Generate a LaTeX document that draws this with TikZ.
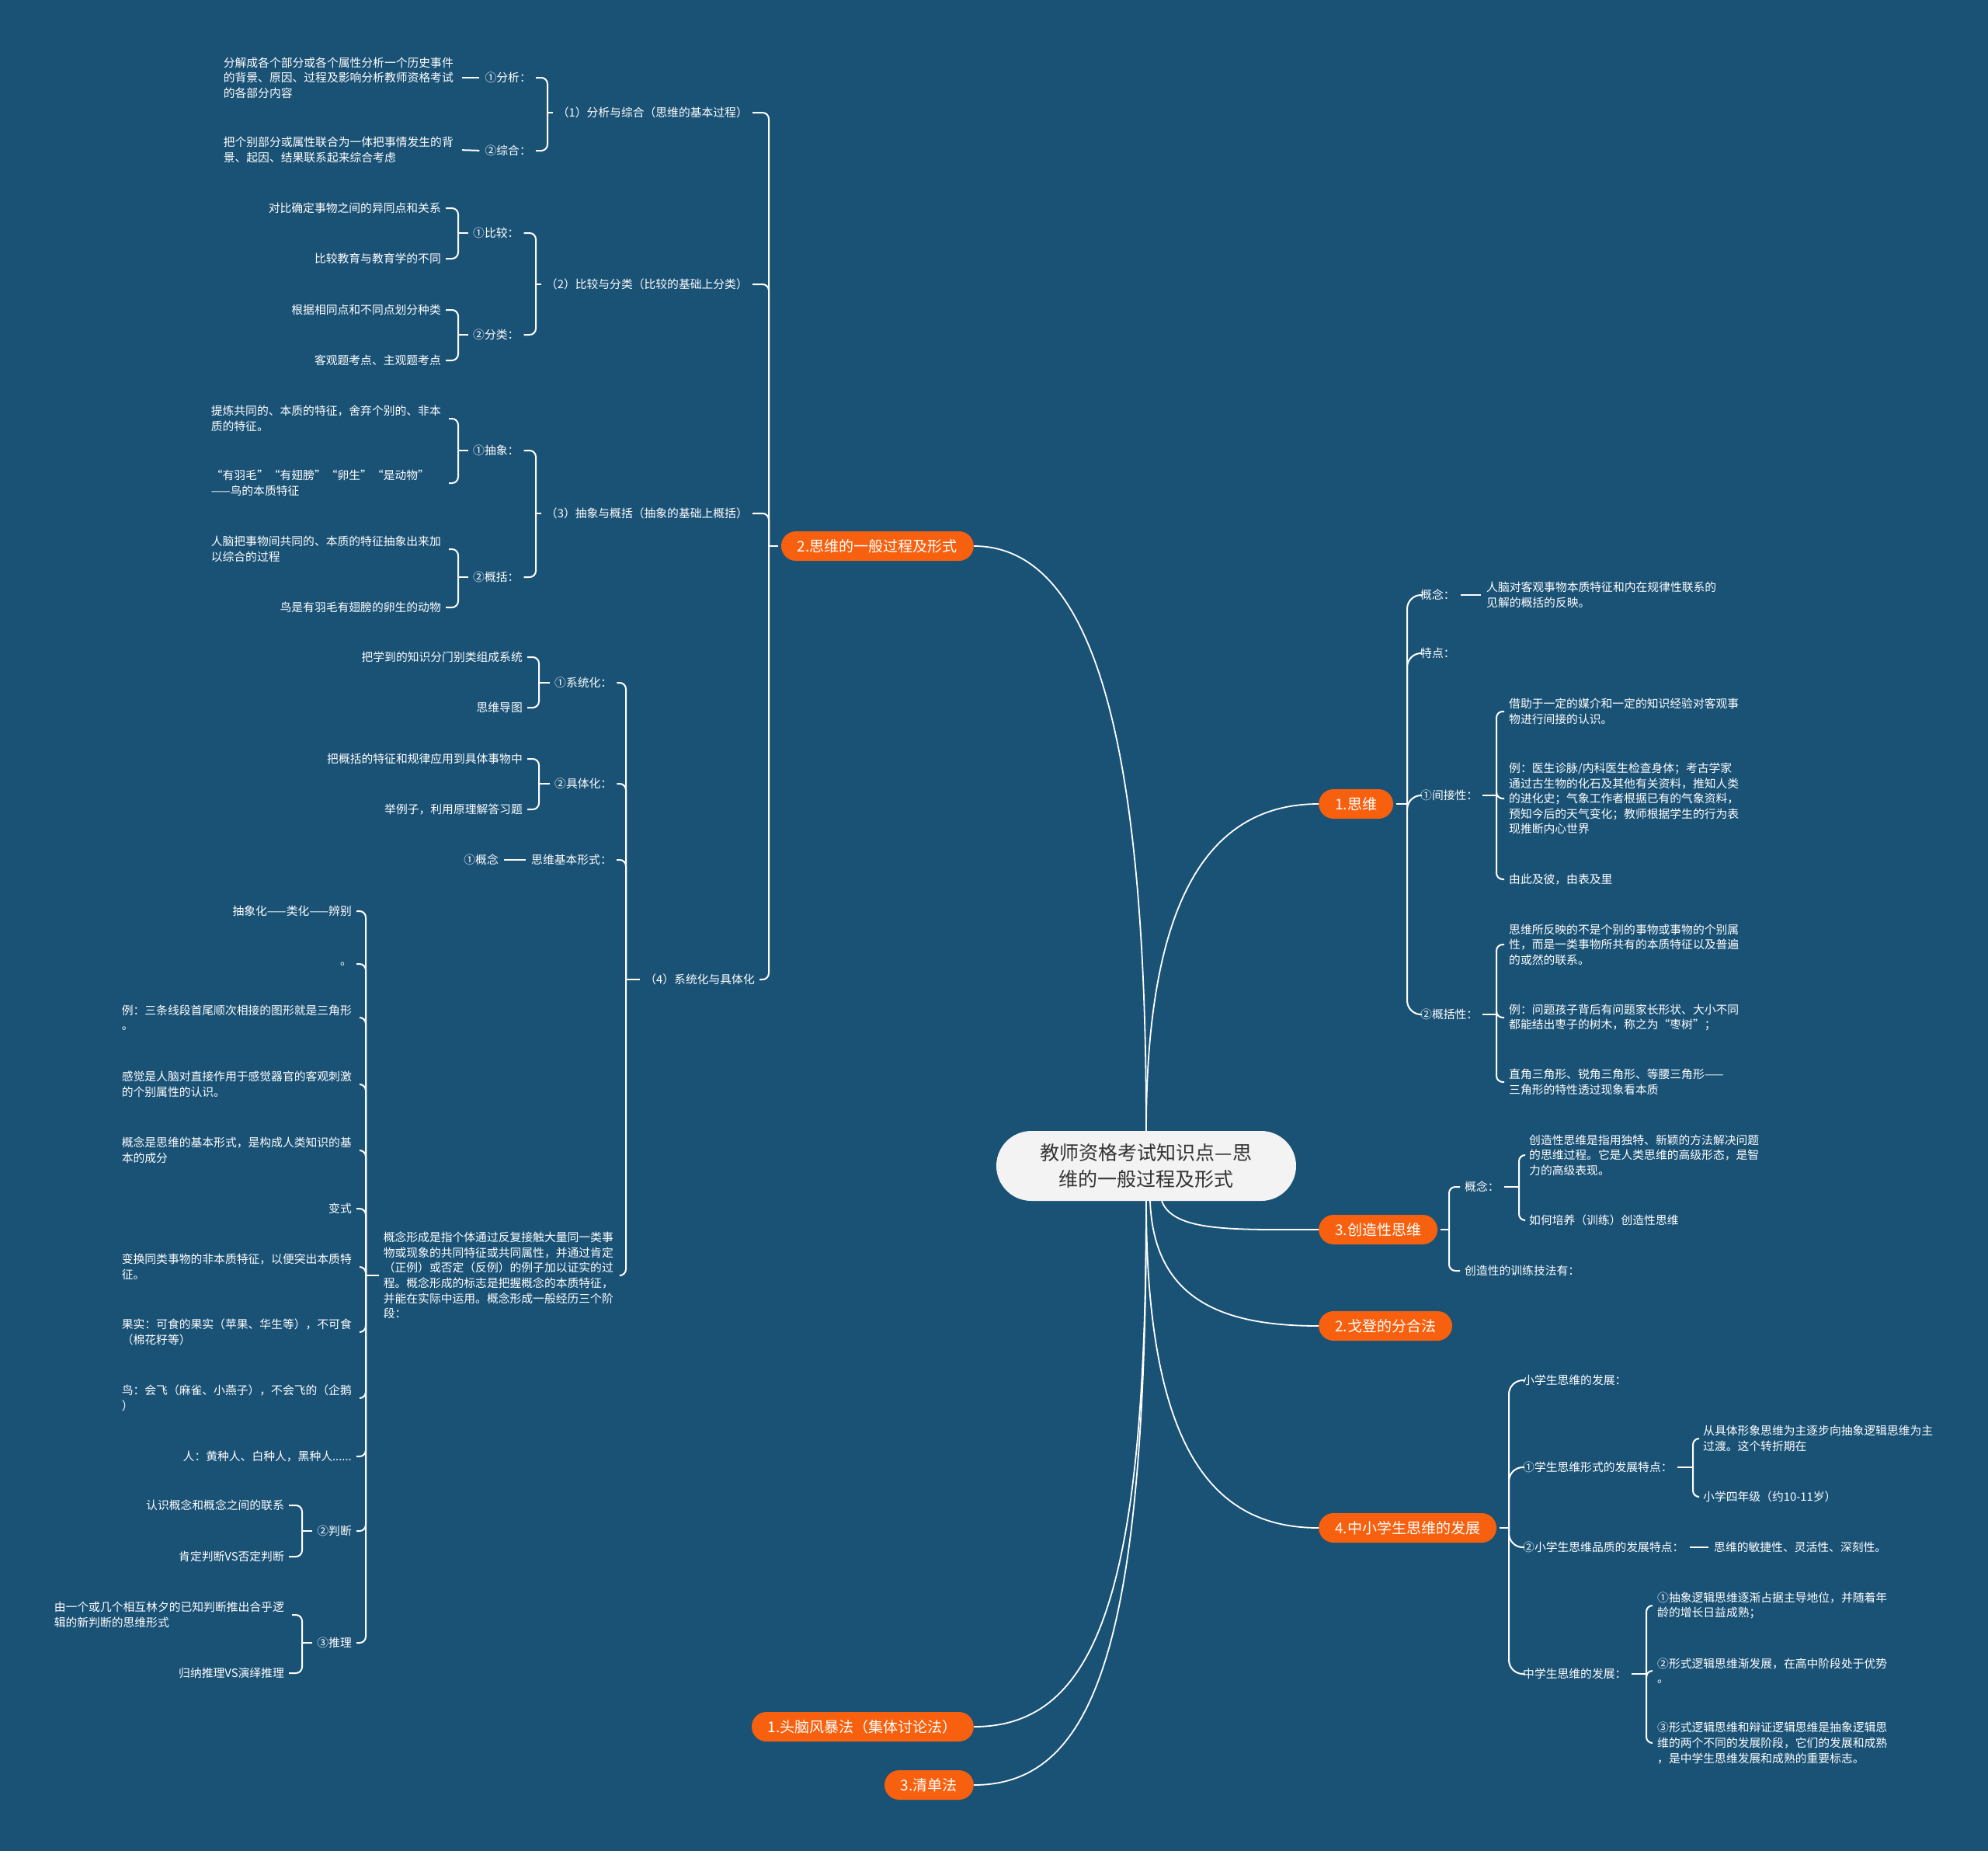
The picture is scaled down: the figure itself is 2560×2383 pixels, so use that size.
\documentclass[tikz,border=0pt]{standalone}
\usepackage{fontspec}
\setmainfont{Noto Sans CJK SC}
\usetikzlibrary{calc}
\definecolor{bgc}{RGB}{26,82,118}
\definecolor{orng}{RGB}{247,96,14}
\definecolor{rootfill}{RGB}{243,243,243}
\definecolor{roottext}{RGB}{51,51,51}
\newcommand\fsS{\fontsize{14.8}{19.6}\selectfont}
\newcommand\fsM{\fontsize{19}{23}\selectfont}
\newcommand\fsL{\fontsize{25}{34}\selectfont}
\newcommand\brkLeft[4][brk]{%
  \draw[#1,shorten <=4pt] (#2.west) -- (#2.west -| #3);
  \foreach \ch in {#4}{\draw[#1,shorten >=4pt] (#2.west -| #3) |- (\ch.east);}%
}
\newcommand\brkRight[4][brk]{%
  \draw[#1,shorten <=4pt] (#2.east) -- (#2.east -| #3);
  \foreach \ch in {#4}{\draw[#1,shorten >=4pt] (#2.east -| #3) |- (\ch.west);}%
}
\begin{document}
\begin{tikzpicture}[x=1pt,y=-1pt,
  txt/.style={text=white,font=\fsS,inner sep=2pt},
  para/.style={txt,align=left,text width=300pt},
  pill/.style={fill=orng,text=white,font=\fsM,rounded corners=19pt,minimum height=38pt,inner xsep=21pt,inner ysep=0pt},
  rootnode/.style={fill=rootfill,text=roottext,font=\fsL,align=center,rounded corners=45pt,minimum width=386pt,minimum height=90pt,inner sep=0pt},
  conn/.style={draw=white,line width=1.8pt},
  brk/.style={draw=white,line width=2pt,rounded corners=8pt},
  brkR/.style={draw=white,line width=2pt,rounded corners=18pt},
  link/.style={draw=white,line width=2pt,shorten <=5pt,shorten >=5pt}]
\fill[bgc] (0,0) rectangle (2560,2383);

% bracket x positions
\coordinate (xM2) at (990,0);
\coordinate (xA1) at (705,0);
\coordinate (xA2) at (690,0);
\coordinate (xA2s) at (590,0);
\coordinate (xA4) at (806,0);
\coordinate (xA4s) at (694,0);
\coordinate (xB) at (471,0);
\coordinate (xB11) at (389,0);
\coordinate (xM1) at (1812,0);
\coordinate (xR3) at (1927,0);
\coordinate (xM3) at (1866,0);
\coordinate (xC1) at (1956,0);
\coordinate (xM4) at (1943,0);
\coordinate (xD2) at (2180,0);
\coordinate (xD4) at (2120,0);

% root and main topics
\node[rootnode] (root) at (1476,1501) {教师资格考试知识点—思\\维的一般过程及形式};
\node[pill,anchor=east] (m2) at (1254,703) {2.思维的一般过程及形式};
\node[pill,anchor=west] (m1) at (1698,1035) {1.思维};
\node[pill,anchor=west] (m3c) at (1698,1583) {3.创造性思维};
\node[pill,anchor=west] (m2g) at (1698,1707) {2.戈登的分合法};
\node[pill,anchor=west] (m4) at (1698,1967) {4.中小学生思维的发展};
\node[pill,anchor=east] (m1b) at (1254,2223) {1.头脑风暴法（集体讨论法）};
\node[pill,anchor=east] (m3q) at (1254,2298) {3.清单法};

% ---------- left: group 1
\node[txt,anchor=east] (a1) at (965,145) {（1）分析与综合（思维的基本过程）};
\node[txt,anchor=east] (a1s1) at (686,100) {①分析：};
\node[txt,anchor=east] (a1s2) at (686,194) {②综合：};
\node[para,anchor=east] (a1t1) at (590,100) {分解成各个部分或各个属性分析一个历史事件\\的背景、原因、过程及影响分析教师资格考试\\的各部分内容};
\node[para,anchor=east] (a1t2) at (590,193) {把个别部分或属性联合为一体把事情发生的背\\景、起因、结果联系起来综合考虑};

% group 2
\node[txt,anchor=east] (a2) at (965,366) {（2）比较与分类（比较的基础上分类）};
\node[txt,anchor=west] (a2s1) at (607,300) {①比较：};
\node[txt,anchor=west] (a2s2) at (607,431) {②分类：};
\node[txt,anchor=east] (a2l1) at (570,268) {对比确定事物之间的异同点和关系};
\node[txt,anchor=east] (a2l2) at (570,333) {比较教育与教育学的不同};
\node[txt,anchor=east] (a2l3) at (570,399) {根据相同点和不同点划分种类};
\node[txt,anchor=east] (a2l4) at (570,464) {客观题考点、主观题考点};

% group 3
\node[txt,anchor=east] (a3) at (965,661) {（3）抽象与概括（抽象的基础上概括）};
\node[txt,anchor=west] (a3s1) at (607,580) {①抽象：};
\node[txt,anchor=west] (a3s2) at (607,743) {②概括：};
\node[para,anchor=east] (a3l1) at (574,539) {提炼共同的、本质的特征，舍弃个别的、非本\\质的特征。};
\node[para,anchor=east] (a3l2) at (574,622) {“有羽毛”“有翅膀”“卵生”“是动物”\\——鸟的本质特征};
\node[para,anchor=east] (a3l3) at (574,707) {人脑把事物间共同的、本质的特征抽象出来加\\以综合的过程};
\node[txt,anchor=east] (a3l4) at (570,782) {鸟是有羽毛有翅膀的卵生的动物};

% group 4
\node[txt,anchor=east] (a4) at (974,1261) {（4）系统化与具体化};
\node[txt,anchor=west] (a4s1) at (712,879) {①系统化：};
\node[txt,anchor=west] (a4s2) at (712,1009) {②具体化：};
\node[txt,anchor=west] (a4s3) at (682,1107) {思维基本形式：};
\node[para,anchor=east] (a4s4) at (796,1642) {概念形成是指个体通过反复接触大量同一类事\\物或现象的共同特征或共同属性，并通过肯定\\（正例）或否定（反例）的例子加以证实的过\\程。概念形成的标志是把握概念的本质特征，\\并能在实际中运用。概念形成一般经历三个阶\\段：};
\node[txt,anchor=east] (a4l1) at (675,846) {把学到的知识分门别类组成系统};
\node[txt,anchor=east] (a4l2) at (675,911) {思维导图};
\node[txt,anchor=east] (a4l3) at (675,977) {把概括的特征和规律应用到具体事物中};
\node[txt,anchor=east] (a4l4) at (675,1042) {举例子，利用原理解答习题};
\node[txt,anchor=east] (a4l5) at (644,1107) {①概念};

\node[txt,anchor=east] (b1) at (455,1173) {抽象化——类化——辨别};
\node[txt,anchor=east] (b2) at (455,1241) {。};
\node[para,anchor=east] (b3) at (459,1310) {例：三条线段首尾顺次相接的图形就是三角形\\。};
\node[para,anchor=east] (b4) at (459,1396) {感觉是人脑对直接作用于感觉器官的客观刺激\\的个别属性的认识。};
\node[para,anchor=east] (b5) at (459,1481) {概念是思维的基本形式，是构成人类知识的基\\本的成分};
\node[txt,anchor=east] (b6) at (455,1556) {变式};
\node[para,anchor=east] (b7) at (459,1631) {变换同类事物的非本质特征，以便突出本质特\\征。};
\node[para,anchor=east] (b8) at (459,1715) {果实：可食的果实（苹果、华生等），不可食\\（棉花籽等）};
\node[para,anchor=east] (b9) at (459,1800) {鸟：会飞（麻雀、小燕子），不会飞的（企鹅\\）};
\node[txt,anchor=east] (b10) at (455,1875) {人：黄种人、白种人，黑种人......};
\node[txt,anchor=east] (b11) at (455,1971) {②判断};
\node[txt,anchor=east] (b12) at (455,2115) {③推理};
\node[txt,anchor=east] (b11l1) at (368,1938) {认识概念和概念之间的联系};
\node[txt,anchor=east] (b11l2) at (368,2004) {肯定判断VS否定判断};
\node[para,anchor=east] (b12l1) at (372,2079) {由一个或几个相互林夕的已知判断推出合乎逻\\辑的新判断的思维形式};
\node[txt,anchor=east] (b12l2) at (368,2154) {归纳推理VS演绎推理};

% ---------- right: 1.思维
\node[txt,anchor=west] (r1) at (1827,766) {概念：};
\node[para,anchor=west] (r1t) at (1912,766) {人脑对客观事物本质特征和内在规律性联系的\\见解的概括的反映。};
\node[txt,anchor=west] (r2) at (1827,841) {特点：};
\node[txt,anchor=west] (r3) at (1827,1024) {①间接性：};
\node[para,anchor=west] (r3l1) at (1941,916) {借助于一定的媒介和一定的知识经验对客观事\\物进行间接的认识。};
\node[para,anchor=west] (r3l2) at (1941,1028) {例：医生诊脉/内科医生检查身体；考古学家\\通过古生物的化石及其他有关资料，推知人类\\的进化史；气象工作者根据已有的气象资料，\\预知今后的天气变化；教师根据学生的行为表\\现推断内心世界};
\node[txt,anchor=west] (r3l3) at (1941,1132) {由此及彼，由表及里};
\node[txt,anchor=west] (r4) at (1827,1306) {②概括性：};
\node[para,anchor=west] (r4l1) at (1941,1216) {思维所反映的不是个别的事物或事物的个别属\\性，而是一类事物所共有的本质特征以及普遍\\的或然的联系。};
\node[para,anchor=west] (r4l2) at (1941,1310) {例：问题孩子背后有问题家长形状、大小不同\\都能结出枣子的树木，称之为“枣树”；};
\node[para,anchor=west] (r4l3) at (1941,1393) {直角三角形、锐角三角形、等腰三角形——\\三角形的特性透过现象看本质};

% 3.创造性思维
\node[txt,anchor=west] (c1) at (1884,1528) {概念：};
\node[para,anchor=west] (c1l1) at (1967,1487) {创造性思维是指用独特、新颖的方法解决问题\\的思维过程。它是人类思维的高级形态，是智\\力的高级表现。};
\node[txt,anchor=west] (c1l2) at (1967,1571) {如何培养（训练）创造性思维};
\node[txt,anchor=west] (c2) at (1884,1636) {创造性的训练技法有：};

% 4.中小学生思维的发展
\node[txt,anchor=west] (d1) at (1959,1777) {小学生思维的发展：};
\node[txt,anchor=west] (d2) at (1959,1889) {①学生思维形式的发展特点：};
\node[para,anchor=west] (d2l1) at (2191,1852) {从具体形象思维为主逐步向抽象逻辑思维为主\\过渡。这个转折期在};
\node[txt,anchor=west] (d2l2) at (2191,1927) {小学四年级（约10-11岁）};
\node[txt,anchor=west] (d3) at (1959,1992) {②小学生思维品质的发展特点：};
\node[txt,anchor=west] (d3l) at (2205,1992) {思维的敏捷性、灵活性、深刻性。};
\node[txt,anchor=west] (d4) at (1959,2155) {中学生思维的发展：};
\node[para,anchor=west] (d4l1) at (2132,2067) {①抽象逻辑思维逐渐占据主导地位，并随着年\\龄的增长日益成熟；};
\node[para,anchor=west] (d4l2) at (2132,2151) {②形式逻辑思维渐发展，在高中阶段处于优势\\。};
\node[para,anchor=west] (d4l3) at (2132,2244) {③形式逻辑思维和辩证逻辑思维是抽象逻辑思\\维的两个不同的发展阶段，它们的发展和成熟\\，是中学生思维发展和成熟的重要标志。};

% ---------- connectors from root
\draw[conn] (root.north) .. controls +(0,-460) and +(166,0) .. (m2.east);
\draw[conn] (root.north) .. controls +(0,-300) and +(-140,0) .. (m1.west);
\draw[conn] ([xshift=20pt]root.south) .. controls +(15,40) and +(-110,0) .. (m3c.west);
\draw[conn] ([xshift=5pt]root.south) .. controls +(5,130) and +(-120,0) .. (m2g.west);
\draw[conn] (root.south) .. controls +(0,330) and +(-130,0) .. (m4.west);
\draw[conn] (root.south) .. controls +(0,500) and +(160,0) .. (m1b.east);
\draw[conn] (root.south) .. controls +(0,560) and +(160,0) .. (m3q.east);

% ---------- left brackets
\brkLeft{m2}{xM2}{a1,a2,a3,a4}
\brkLeft{a1}{xA1}{a1s1,a1s2}
\draw[link] (a1t1.east) -- (a1s1.west);
\draw[link] (a1t2.east) -- (a1s2.west);
\brkLeft{a2}{xA2}{a2s1,a2s2}
\brkLeft{a2s1}{xA2s}{a2l1,a2l2}
\brkLeft{a2s2}{xA2s}{a2l3,a2l4}
\brkLeft{a3}{xA2}{a3s1,a3s2}
\brkLeft{a3s1}{xA2s}{a3l1,a3l2}
\brkLeft{a3s2}{xA2s}{a3l3,a3l4}
\brkLeft{a4}{xA4}{a4s1,a4s2,a4s3,a4s4}
\brkLeft{a4s1}{xA4s}{a4l1,a4l2}
\brkLeft{a4s2}{xA4s}{a4l3,a4l4}
\draw[link] (a4l5.east) -- (a4s3.west);
\brkLeft{a4s4}{xB}{b1,b2,b3,b4,b5,b6,b7,b8,b9,b10,b11,b12}
\brkLeft{b11}{xB11}{b11l1,b11l2}
\brkLeft{b12}{xB11}{b12l1,b12l2}

% ---------- right brackets
\brkRight[brkR]{m1}{xM1}{r1,r2,r3,r4}
\draw[link] (r1.east) -- (r1t.west);
\brkRight{r3}{xR3}{r3l1,r3l2,r3l3}
\brkRight{r4}{xR3}{r4l1,r4l2,r4l3}
\brkRight{m3c}{xM3}{c1,c2}
\brkRight{c1}{xC1}{c1l1,c1l2}
\brkRight[brkR]{m4}{xM4}{d1,d2,d3,d4}
\brkRight{d2}{xD2}{d2l1,d2l2}
\draw[link] (d3.east) -- (d3l.west);
\brkRight{d4}{xD4}{d4l1,d4l2,d4l3}
\end{tikzpicture}
\end{document}
